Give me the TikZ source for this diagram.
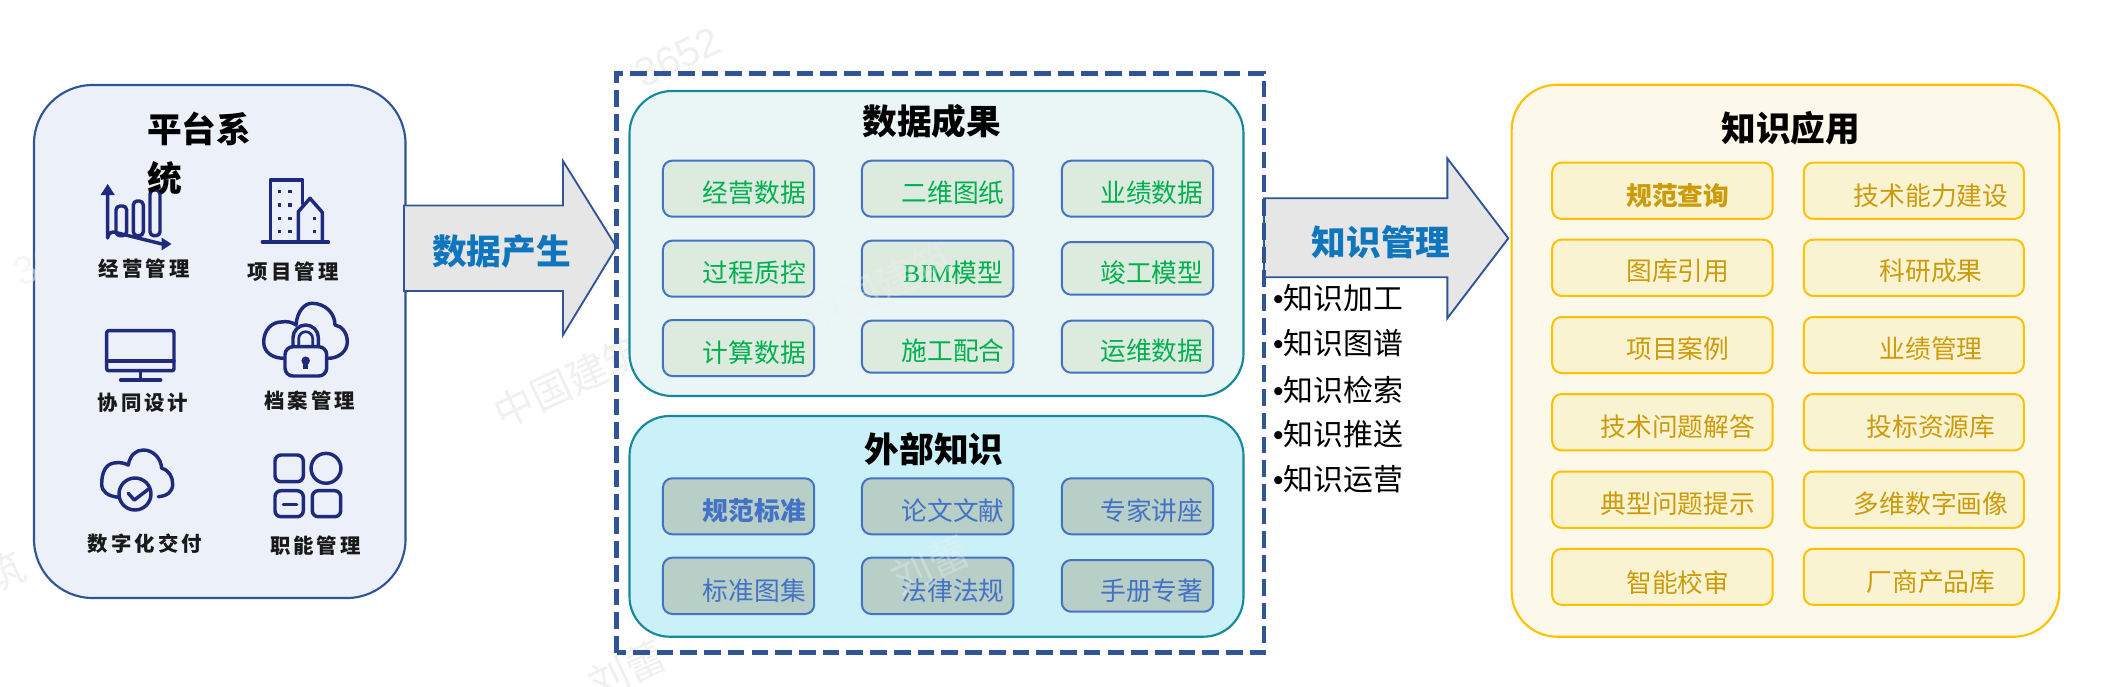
\documentclass[tikz,border=0pt]{standalone}
\usepackage{fontspec}
\setmainfont{Noto Sans CJK SC}
\newfontfamily\lblfont[LetterSpace=15]{Noto Sans CJK SC}
\newfontfamily\serifa{Liberation Serif}
\newfontfamily\wmlatin{Liberation Sans}
\definecolor{navyi}{HTML}{1F2A7C}
\definecolor{blueb}{HTML}{2F5597}
\definecolor{tealb}{HTML}{15899C}
\definecolor{boxb}{HTML}{4472C4}
\definecolor{goldb}{HTML}{FFC000}
\definecolor{goldt}{HTML}{CC9B0A}
\definecolor{greent}{HTML}{00B050}
\definecolor{arrowt}{HTML}{0F75BD}
\newcommand{\panelbox}[6]{%
  \pgfmathsetmacro\pcx{(#3+#5)/2}\pgfmathsetmacro\pcy{(#4+#6)/2}%
  \pgfmathsetmacro\pw{(#5-#3)*0.75}\pgfmathsetmacro\ph{(#6-#4)*0.75}%
  \node[#2,minimum width=\pw pt,minimum height=\ph pt] (#1) at (\pcx,\pcy) {};}
\newcommand{\txt}[5]{\node[#2] (#1) at (#3,#4) {#5};}
\newcommand{\blt}{{\wmlatin •}}
\tikzset{
  x=0.75pt,y=-0.75pt,
  allnodes/.style={inner sep=0pt,outer sep=0pt},
  leftpanel/.style={allnodes,draw=blueb,line width=1.6pt,rounded corners=44pt,fill=leftfill},
  uppanel/.style={allnodes,draw=tealb,line width=1.6pt,fill=upfill,rounded corners=32pt},
  lowpanel/.style={allnodes,draw=tealb,line width=1.6pt,fill=lowfill,rounded corners=30pt},
  rightpanel/.style={allnodes,draw=goldb,line width=1.6pt,fill=rightfill,rounded corners=34pt},
  greenbox/.style={allnodes,draw=boxb,line width=1.5pt,fill=greenfill,rounded corners=7pt},
  slatebox/.style={allnodes,draw=boxb,line width=1.5pt,fill=slatefill,rounded corners=7pt},
  goldbox/.style={allnodes,draw=goldb,line width=1.5pt,fill=goldfill,rounded corners=7pt},
  blockarrow/.style={draw=blueb,line width=1.4pt,fill=arrowfill,line join=miter},
  heading/.style={allnodes,font=\fontsize{26}{30}\selectfont\bfseries,text=black},
  arrowlabel/.style={allnodes,font=\fontsize{26}{30}\selectfont\bfseries,text=arrowt},
  sidelabel/.style={allnodes,font=\fontsize{15.3}{18}\selectfont\lblfont\bfseries,text=black!90},
  greentext/.style={allnodes,font=\fontsize{19.3}{22}\selectfont,text=greent},
  slatetext/.style={allnodes,font=\fontsize{19.3}{22}\selectfont,text=boxb},
  goldtext/.style={allnodes,font=\fontsize{19.3}{22}\selectfont,text=goldt},
  listtext/.style={allnodes,anchor=west,font=\fontsize{22.4}{26}\selectfont,text=black},
  icon/.style={draw=navyi,line width=2.6pt,line cap=round,line join=round},
  iconfill/.style={fill=navyi,draw=none},
  mark text/.style={allnodes,text=black!6,rotate=25,font=\fontsize{30}{36}\selectfont},
}
\definecolor{leftfill}{HTML}{EBF0F9}
\definecolor{upfill}{HTML}{E9F6F5}
\definecolor{lowfill}{HTML}{CAF0F8}
\definecolor{rightfill}{HTML}{FDF9EA}
\definecolor{greenfill}{HTML}{DDEBDF}
\definecolor{slatefill}{HTML}{B8CFC8}
\definecolor{goldfill}{HTML}{FAF3D2}
\definecolor{arrowfill}{HTML}{E7E6E6}
\begin{document}
\begin{tikzpicture}
\useasboundingbox[fill=white] (0,0) rectangle (2106,686);
% watermarks that lie mostly on the white ground
\node[mark text,font=\fontsize{30}{36}\selectfont\wmlatin] (w1) at (678,57) {3652};
\node[mark text] (w3) at (569,382) {中国建筑};
\node[mark text] (w5) at (627,670) {刘蕾};
\node[mark text] (w7) at (4,572) {筑};
% left panel
\panelbox{platform}{leftpanel}{34}{85}{405.5}{598}
% arrows
\draw[blockarrow] (404,205.5) -- (563,205.5) -- (563,161) -- (616.5,247) -- (563,335) -- (563,291) -- (404,291) -- cycle;
\draw[blockarrow] (1264,198.3) -- (1447.3,198.3) -- (1447.3,158.3) -- (1508.3,238.3) -- (1447.3,318.3) -- (1447.3,277.3) -- (1264,277.3) -- cycle;
\txt{arrowone}{arrowlabel}{501.6}{251.8}{数据产生}
\txt{arrowtwo}{arrowlabel}{1381.3}{241.7}{知识管理}
% middle panels
\panelbox{results}{uppanel}{629.5}{91}{1243.5}{396}
\panelbox{external}{lowpanel}{629.5}{416}{1243.5}{636.7}
\draw[blueb,line width=3.4pt,dash pattern=on 12.5pt off 5.3pt] (616.5,652.7) -- (616.5,73.3) -- (1264,73.3) -- (1264,652.7) -- cycle;
% right panel
\panelbox{apply}{rightpanel}{1511.6}{84.8}{2059.3}{636.7}
% headings
\node[heading,anchor=west] (ptitle) at (147,129) {平台系};
\txt{rtitle}{heading}{931.7}{121.7}{数据成果}
\txt{etitle}{heading}{934}{449.3}{外部知识}
\txt{atitle}{heading}{1790.7}{128.5}{知识应用}
% green boxes
\panelbox{g11}{greenbox}{662.9}{160.7}{814.2}{216.7}
\panelbox{g12}{greenbox}{861.9}{160.7}{1013.3}{216.7}
\panelbox{g13}{greenbox}{1061.8}{160.7}{1213.2}{216.7}
\panelbox{g21}{greenbox}{662.9}{240.7}{814.2}{296.7}
\panelbox{g22}{greenbox}{861.9}{240.7}{1013.3}{296.7}
\panelbox{g23}{greenbox}{1061.8}{242}{1213.2}{294.7}
\panelbox{g31}{greenbox}{662.9}{320}{814.2}{376}
\panelbox{g32}{greenbox}{861.9}{320.7}{1013.3}{372.7}
\panelbox{g33}{greenbox}{1061.8}{320.7}{1213.2}{372.7}
\txt{gt11}{greentext}{754.3}{192.7}{经营数据}
\txt{gt12}{greentext}{953.2}{192.7}{二维图纸}
\txt{gt13}{greentext}{1151.8}{192.7}{业绩数据}
\txt{gt21}{greentext}{754.3}{272.7}{过程质控}
\txt{gt22}{greentext}{953.2}{272.7}{{\serifa BIM}模型}
\txt{gt23}{greentext}{1151.8}{272.7}{竣工模型}
\txt{gt31}{greentext}{754.3}{352.3}{计算数据}
\txt{gt32}{greentext}{953.2}{351}{施工配合}
\txt{gt33}{greentext}{1151.8}{351}{运维数据}
% slate boxes
\panelbox{s11}{slatebox}{662.9}{478.3}{814.2}{534.3}
\panelbox{s12}{slatebox}{861.9}{478.3}{1013.3}{534.3}
\panelbox{s13}{slatebox}{1061.8}{478.3}{1213.2}{534.3}
\panelbox{s21}{slatebox}{662.9}{557.7}{814.2}{614}
\panelbox{s22}{slatebox}{861.9}{557.7}{1013.3}{614}
\panelbox{s23}{slatebox}{1061.8}{560}{1213.2}{611.7}
\txt{st11}{slatetext}{754.3}{510.7}{\bfseries 规范标准}
\txt{st12}{slatetext}{953.2}{510.7}{论文文献}
\txt{st13}{slatetext}{1151.8}{510.7}{专家讲座}
\txt{st21}{slatetext}{754.3}{591}{标准图集}
\txt{st22}{slatetext}{953.2}{591}{法律法规}
\txt{st23}{slatetext}{1151.8}{591}{手册专著}
% gold boxes
\panelbox{y11}{goldbox}{1552.2}{162.6}{1772.5}{218.9}
\panelbox{y12}{goldbox}{1803.8}{162.6}{2023.8}{218.9}
\panelbox{y21}{goldbox}{1552.2}{239.6}{1772.5}{295.9}
\panelbox{y22}{goldbox}{1803.8}{239.6}{2023.8}{295.9}
\panelbox{y31}{goldbox}{1552.2}{317}{1772.5}{373}
\panelbox{y32}{goldbox}{1803.8}{317}{2023.8}{373}
\panelbox{y41}{goldbox}{1552.2}{394}{1772.5}{450.4}
\panelbox{y42}{goldbox}{1803.8}{394}{2023.8}{450.4}
\panelbox{y51}{goldbox}{1552.2}{471.5}{1772.5}{527.8}
\panelbox{y52}{goldbox}{1803.8}{471.5}{2023.8}{527.8}
\panelbox{y61}{goldbox}{1552.2}{548.9}{1772.5}{604.8}
\panelbox{y62}{goldbox}{1803.8}{548.9}{2023.8}{604.8}
\txt{yt11}{goldtext}{1677.8}{196}{\bfseries 规范查询}
\txt{yt12}{goldtext}{1931}{196}{技术能力建设}
\txt{yt21}{goldtext}{1677.8}{271}{图库引用}
\txt{yt22}{goldtext}{1931}{271}{科研成果}
\txt{yt31}{goldtext}{1677.8}{348.9}{项目案例}
\txt{yt32}{goldtext}{1931}{348.9}{业绩管理}
\txt{yt41}{goldtext}{1677.8}{426.7}{技术问题解答}
\txt{yt42}{goldtext}{1931}{426.7}{投标资源库}
\txt{yt51}{goldtext}{1677.8}{504}{典型问题提示}
\txt{yt52}{goldtext}{1931}{504}{多维数字画像}
\txt{yt61}{goldtext}{1677.8}{582.2}{智能校审}
\txt{yt62}{goldtext}{1931}{582.2}{厂商产品库}
% list
\txt{l1}{listtext}{1273}{298.3}{\blt 知识加工}
\txt{l2}{listtext}{1273}{343.3}{\blt 知识图谱}
\txt{l3}{listtext}{1273}{390}{\blt 知识检索}
\txt{l4}{listtext}{1273}{434}{\blt 知识推送}
\txt{l5}{listtext}{1273}{479.3}{\blt 知识运营}
% side labels
\txt{sl1}{sidelabel}{144.3}{269}{经营管理}
\txt{sl2}{sidelabel}{293.3}{271.5}{项目管理}
\txt{sl3}{sidelabel}{143}{402.6}{协同设计}
\txt{sl4}{sidelabel}{309.5}{400.7}{档案管理}
\txt{sl5}{sidelabel}{145}{543.7}{数字化交付}
\txt{sl6}{sidelabel}{315.4}{545.6}{职能管理}
% chart icon
\draw[icon] (107.7,192) -- (107.7,238) arc[start angle=180,end angle=90,x radius=6,y radius=-6] -- (162,244);
\fill[iconfill] (107.7,184) -- (114.8,195) -- (100.6,195) -- cycle;
\fill[iconfill] (171.5,244) -- (161.5,237.5) -- (161.5,250.5) -- cycle;
\draw[icon,rounded corners=3pt] (116,206) rectangle (126.7,235.7);
\draw[icon,rounded corners=3pt] (133.3,201) rectangle (143.3,235.7);
\draw[icon,rounded corners=3pt] (150,190) rectangle (160,235.7);
% second line of the wrapped title lies above the icon
\node[heading,anchor=west] (ptitleb) at (147,177.8) {统};
% building icon
\draw[icon] (262.3,242) -- (328.3,242);
\draw[icon] (270.3,242) -- (270.3,180) -- (302.7,180) -- (302.7,204);
\draw[icon] (298.3,242) -- (298.3,211.7) -- (310,198.3) -- (322.3,212.3) -- (322.3,242);
\foreach \px in {279.3,290} \foreach \py in {191.7,205,218.3,231.7}
  \fill[iconfill] (\px-1.7,\py-1.7) rectangle (\px+1.7,\py+1.7);
\foreach \py in {218.3,231.7}
  \fill[iconfill] (314.7-1.7,\py-1.7) rectangle (314.7+1.7,\py+1.7);
% monitor icon
\draw[icon,rounded corners=1.5pt] (106.7,330.7) rectangle (174,370.7);
\draw[icon] (106.7,361) -- (174,361);
\draw[icon] (140.7,370.7) -- (140.7,380);
\draw[icon] (120.7,380) -- (160.7,380);
% cloud lock icon
\draw[icon] (283.3,358.3) .. controls (272,358) and (263.7,352) .. (263.7,342)
  .. controls (263.7,330) and (272,322) .. (281,322)
  .. controls (287,321) and (292,322) .. (296,325)
  .. controls (297,312) and (304,303.3) .. (312,303.3)
  .. controls (325,303.3) and (335,313) .. (335,325)
  .. controls (342,326) and (347.3,333) .. (347.3,342)
  .. controls (347.3,351) and (339,358.3) .. (328.3,358.3);
\draw[icon,rounded corners=6pt] (285,346.7) rectangle (326.7,376);
\draw[icon] (293,346.7) -- (293,337.7) arc[start angle=180,end angle=0,x radius=12.7,y radius=-12.7] -- (318.4,346.7);
\draw[icon,line width=2pt] (298.7,346.7) -- (298.7,338.7) arc[start angle=180,end angle=0,x radius=7,y radius=-7] -- (312.7,346.7);
\fill[iconfill] (305.7,360.7) circle[radius=3.2pt];
\fill[iconfill] (303.3,361) rectangle (308.1,368.5);
% cloud check icon
\draw[icon] (118.3,497.3) .. controls (108,496) and (101.7,492) .. (101.7,484)
  .. controls (101.7,472) and (106,464) .. (114,463)
  .. controls (120,462) and (124,463) .. (128.3,465)
  .. controls (130,455) and (136,450) .. (143.3,450)
  .. controls (153,450) and (161,458) .. (161.7,468.3)
  .. controls (169,470) and (172.7,477) .. (172.7,484)
  .. controls (172.7,492) and (167,496) .. (158.3,496.7);
\draw[icon,fill=leftfill] (135,494) circle[radius=12pt];
\draw[icon] (128.3,493.3) -- (134.3,500) -- (148.3,489.3);
% grid icon
\draw[icon,rounded corners=4.5pt] (275,455) rectangle (303.3,481.7);
\draw[icon] (326,468.3) circle[radius=11.2pt];
\draw[icon,rounded corners=4.5pt] (275,490.7) rectangle (303.3,516.7);
\draw[icon] (283.3,504.3) -- (296.7,504.3);
\draw[icon,rounded corners=4.5pt] (312.3,490.7) rectangle (340.7,516.7);
% faint watermarks over the boxes
\node[mark text,font=\fontsize{30}{36}\selectfont\wmlatin,opacity=0.55] (w2) at (56,256) {3652};
\node[mark text,opacity=0.35] (w4) at (878,288) {中国建筑};
\node[mark text,opacity=0.35] (w6) at (930,565) {刘蕾};
\end{tikzpicture}
\end{document}
